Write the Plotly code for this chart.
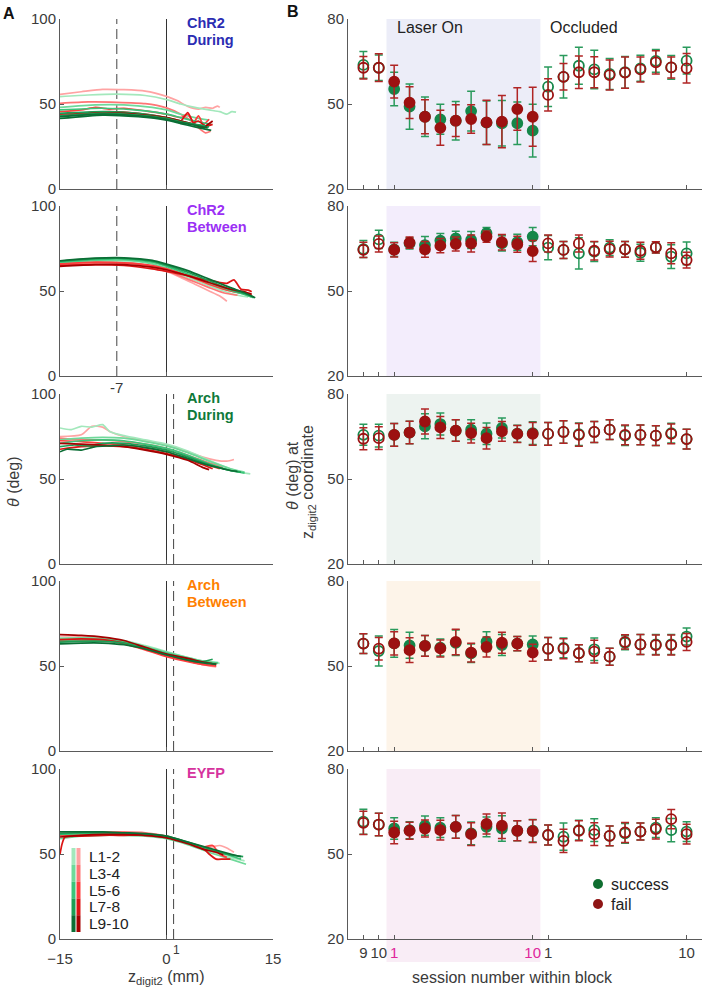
import plotly.graph_objects as go

W, H = 706, 995
FONT = "Liberation Sans, Arial, sans-serif"
TXT = "#3a3a3a"
AXC = "#5a5a5a"

# ---------------- labels / styles ----------------
GROUP_LINE1 = ["ChR2", "ChR2", "Arch", "Arch", "EYFP"]
GROUP_LINE2 = ["During", "Between", "During", "Between", ""]
GROUP_COLORS = ["#2b2db3", "#9b30f5", "#0f7a3a", "#ff8000", "#d6339e"]
SHADE_COLORS = ["#ecedf8", "#f3edfc", "#edf3f0", "#fdf4e9", "#f9edf6"]
DASH_Z = [-7, -7, 1, 1, 1]
SOLID_Z = [0, 0, 0, 0, 0]
LEVEL_LABELS = ["L1-2", "L3-4", "L5-6", "L7-8", "L9-10"]
GREEN_SHADES = ["#a3e8bc", "#6fd99a", "#3cc47a", "#1c9e55", "#0b6e35"]
RED_SHADES = ["#ffa3a3", "#ff7575", "#ff3d3d", "#dc1414", "#a50000"]

# ---------------- panel B: sessions ----------------
SESSION_IDX = list(range(22))
FILLED = [False] * 2 + [True] * 10 + [False] * 10
TICK_IDX = [0, 1, 2, 11, 12, 21]
TICK_TEXT = ["9", "10", "1", "10", "1", "10"]
TICK_MAGENTA = [False, False, True, True, False, False]

CHR2_DUR_SUCC = [63.8, 62.8, 55.3, 49.1, 45.5, 44.6, 44.1, 47.5, 43.4, 43.2, 43.2, 40.6,
                 56.1, 59.6, 63.5, 62.2, 60.6, 61.2, 62.6, 65.2, 62.9, 65.3]
CHR2_DUR_SUCC_ERR = [4.7, 4.5, 5.9, 8.0, 7.0, 5.3, 6.8, 7.0, 7.7, 8.0, 7.5, 9.3,
                     7.0, 7.5, 6.5, 6.8, 5.5, 5.6, 4.6, 4.0, 4.2, 4.7]
CHR2_DUR_FAIL = [62.8, 62.8, 57.9, 50.5, 45.5, 41.6, 44.1, 44.7, 43.5, 43.8, 48.2, 45.5,
                 53.2, 59.6, 61.2, 61.2, 60.2, 61.1, 62.2, 64.7, 62.9, 62.6]
CHR2_DUR_FAIL_ERR = [4.0, 4.9, 5.8, 5.6, 6.0, 6.2, 5.6, 5.0, 7.8, 9.2, 7.5, 10.4,
                     5.7, 4.7, 5.7, 5.5, 5.3, 5.5, 4.4, 4.1, 3.7, 5.2]

CHR2_BET_SUCC = [64.8, 68.2, 64.7, 66.8, 66.2, 67.8, 68.6, 68.0, 70.4, 66.8, 67.2, 69.2,
                 65.3, 64.5, 63.3, 63.9, 65.3, 64.7, 63.5, 65.4, 62.1, 63.3]
CHR2_BET_SUCC_ERR = [3.0, 3.2, 2.5, 2.0, 3.0, 2.5, 2.5, 3.0, 2.0, 2.7, 2.8, 3.2,
                     4.3, 3.0, 5.5, 3.5, 2.8, 2.8, 3.0, 2.0, 4.2, 4.0]
CHR2_BET_FAIL = [64.5, 66.6, 64.5, 67.1, 64.7, 66.0, 66.6, 66.8, 69.2, 67.2, 66.5, 64.1,
                 66.8, 64.5, 66.8, 64.2, 64.8, 64.7, 64.2, 65.4, 63.3, 60.9]
CHR2_BET_FAIL_ERR = [2.7, 2.8, 2.5, 2.0, 2.8, 2.5, 2.5, 3.0, 2.0, 2.7, 2.8, 3.7,
                     3.0, 3.0, 3.0, 3.3, 2.8, 2.8, 3.0, 2.0, 3.7, 2.8]

ARCH_DUR_SUCC = [65.6, 65.3, 65.6, 66.4, 68.6, 69.4, 67.1, 67.4, 66.0, 68.0, 66.0, 66.2,
                 65.9, 66.6, 65.8, 66.6, 67.4, 65.3, 65.6, 65.3, 66.2, 64.1]
ARCH_DUR_SUCC_ERR = [3.7, 4.0, 4.0, 4.0, 4.4, 3.9, 3.8, 3.5, 3.8, 3.5, 3.0, 4.0,
                     4.0, 4.0, 4.0, 3.7, 3.5, 3.5, 3.5, 3.5, 3.5, 3.5]
ARCH_DUR_FAIL = [64.2, 64.4, 65.6, 66.4, 70.3, 68.2, 67.1, 66.2, 64.4, 66.8, 65.9, 65.9,
                 65.9, 66.6, 65.6, 66.6, 67.4, 65.6, 65.6, 65.3, 65.9, 64.1]
ARCH_DUR_FAIL_ERR = [3.9, 4.0, 4.0, 4.0, 4.4, 3.9, 3.8, 3.5, 3.8, 3.5, 3.0, 4.0,
                     4.0, 4.0, 4.0, 3.7, 3.5, 3.5, 3.5, 3.5, 3.5, 3.5]

ARCH_BET_SUCC = [57.9, 55.3, 58.0, 57.3, 57.1, 56.5, 58.2, 54.5, 58.6, 57.4, 57.9, 57.6,
                 56.1, 56.4, 54.5, 55.9, 53.3, 58.2, 57.6, 57.6, 57.6, 60.4]
ARCH_BET_SUCC_ERR = [3.5, 5.3, 4.9, 4.6, 3.7, 3.0, 4.5, 3.3, 3.5, 3.7, 2.5, 3.0,
                     4.0, 3.5, 3.0, 4.0, 3.0, 2.5, 3.5, 3.5, 3.5, 3.0]
ARCH_BET_FAIL = [57.9, 56.1, 58.0, 55.6, 57.1, 56.2, 58.5, 54.7, 56.7, 58.2, 57.9, 54.7,
                 56.1, 56.1, 54.5, 55.1, 53.3, 58.5, 57.6, 57.4, 57.4, 58.5]
ARCH_BET_FAIL_ERR = [3.5, 4.0, 4.1, 4.4, 3.7, 3.0, 4.5, 3.3, 3.5, 3.7, 2.5, 3.0,
                     4.0, 3.5, 3.0, 4.0, 3.0, 2.5, 3.5, 3.5, 3.5, 3.0]

EYFP_SUCC = [61.4, 60.4, 59.0, 58.4, 60.0, 59.3, 59.6, 57.3, 59.6, 59.0, 58.2, 58.2,
             56.7, 56.1, 58.4, 58.4, 56.4, 57.3, 57.9, 59.3, 58.4, 57.9]
EYFP_SUCC_ERR = [4.4, 4.0, 3.8, 3.0, 3.4, 3.5, 4.0, 4.0, 3.5, 4.5, 3.5, 4.0,
                 3.5, 4.8, 3.5, 4.0, 3.5, 3.5, 3.0, 3.5, 4.1, 3.5]
EYFP_FAIL = [61.0, 60.4, 57.6, 58.2, 59.0, 58.4, 59.6, 57.0, 60.6, 60.0, 58.2, 58.1,
             56.7, 54.6, 58.2, 57.0, 56.4, 57.6, 57.9, 58.8, 62.3, 57.0]
EYFP_FAIL_ERR = [4.1, 4.0, 4.0, 3.0, 3.0, 3.5, 4.0, 4.0, 3.5, 4.5, 3.5, 4.0,
                 3.5, 4.1, 3.5, 4.0, 3.5, 3.5, 3.0, 3.5, 3.4, 3.5]

SUCC_MEANS = [CHR2_DUR_SUCC, CHR2_BET_SUCC, ARCH_DUR_SUCC, ARCH_BET_SUCC, EYFP_SUCC]
SUCC_ERRS = [CHR2_DUR_SUCC_ERR, CHR2_BET_SUCC_ERR, ARCH_DUR_SUCC_ERR, ARCH_BET_SUCC_ERR, EYFP_SUCC_ERR]
FAIL_MEANS = [CHR2_DUR_FAIL, CHR2_BET_FAIL, ARCH_DUR_FAIL, ARCH_BET_FAIL, EYFP_FAIL]
FAIL_ERRS = [CHR2_DUR_FAIL_ERR, CHR2_BET_FAIL_ERR, ARCH_DUR_FAIL_ERR, ARCH_BET_FAIL_ERR, EYFP_FAIL_ERR]

# ---------------- panel A: trajectories (level index, outcome, z, theta) ----------------
CHR2_DUR_LEVEL = [0, 0, 1, 1, 2, 2, 3, 3, 4, 4, 3, 4]
CHR2_DUR_OUT = ["r", "g", "r", "g", "r", "g", "r", "g", "r", "g", "g", "g"]
CHR2_DUR_Z = [
    [-15, -12, -9, -6, -3, 0, 1.5, 3, 4.5, 5.5, 6.5, 7.2, 7.5],
    [-15, -11, -7, -3, 0, 2, 4, 6, 7.5, 8.5, 9.2, 9.8],
    [-15, -11, -7, -3, 0, 2, 3.5, 4.5, 5.5, 6.2],
    [-15, -10, -6, -2, 0, 2, 4, 6],
    [-15, -12, -10, -8, -6, -3, 0, 2, 3, 3.8, 4.5, 5.2, 6],
    [-15, -9, -3, 0, 2, 4, 6.3],
    [-15, -11, -8, -4, 0, 2, 3, 3.8, 4.5, 5.5, 6.5],
    [-15, -9, -4, 0, 2, 4, 6],
    [-15, -10, -6, -2, 0, 2, 4, 5, 6.5],
    [-15, -9, -4, 0, 2, 4, 6.3],
    [-15, -9, -4, 0, 2, 4, 5.5],
    [-15, -9, -4, 0, 2, 4, 5.8],
]
CHR2_DUR_TH = [
    [55.7, 57.2, 58.6, 58.4, 57.6, 54.5, 52, 48.5, 47, 48, 47.5, 48.8, 48],
    [54.3, 55.3, 55.8, 55, 52.6, 50, 48, 46.5, 45.5, 44, 45.5, 45.2],
    [50.4, 51.2, 51, 50.2, 47.7, 44, 40, 36, 33, 34],
    [48, 49.5, 49.5, 48, 46.5, 44, 42, 40.5],
    [45.5, 46.5, 48, 47, 47.5, 46, 44, 42, 44, 39, 43, 38, 41],
    [46.5, 47.5, 46, 44, 42, 40, 38],
    [44, 45, 45.5, 44.5, 42, 40, 45, 39, 40, 37, 38],
    [44.5, 45.5, 44.5, 42, 40, 38, 36.5],
    [43, 44.5, 44.5, 43, 42, 40, 38, 36, 40],
    [41.5, 43.5, 42.5, 40.5, 38.5, 36.5, 34.5],
    [43, 44.5, 43.5, 41.5, 39.5, 38, 37],
    [42.5, 44, 43, 41, 39, 37.5, 36],
]

CHR2_BET_LEVEL = [0, 0, 1, 1, 2, 2, 3, 3, 4, 4]
CHR2_BET_OUT = ["r", "g", "r", "g", "r", "g", "r", "g", "r", "g"]
CHR2_BET_Z = [
    [-15, -10, -6, -2, 0, 2, 4, 6, 7.5, 8.5],
    [-15, -10, -6, -2, 0, 3, 6, 8, 10, 11.5],
    [-15, -10, -6, -2, 0, 3, 6, 8, 10],
    [-15, -10, -6, -2, 0, 3, 6, 9, 11, 12],
    [-15, -10, -6, -2, 0, 3, 6, 9, 11, 12],
    [-15, -10, -6, -2, 0, 3, 6, 9, 11, 12.3],
    [-15, -10, -6, -2, 0, 3, 5, 6.5, 7.5, 8.5, 9.5, 10.5, 11.5, 12],
    [-15, -10, -6, -2, 0, 3, 6, 9, 11, 12.3],
    [-15, -10, -6, -2, 0, 3, 6, 9, 11, 12],
    [-15, -10, -6, -2, 0, 3, 6, 9, 11, 12.5],
]
CHR2_BET_TH = [
    [65.5, 66.5, 66.5, 64, 61.5, 58, 54, 50, 47, 44],
    [66, 67, 67, 64.5, 62, 58, 53, 50, 47.5, 46.5],
    [65.5, 66.5, 66.5, 64.5, 62, 57, 52, 49, 47.5],
    [66.5, 67.8, 68, 66, 63.5, 59, 54, 50, 48, 46.5],
    [66, 67, 66.5, 65, 63, 59, 54, 50, 48.5, 47.5],
    [67, 68.5, 68.8, 67, 64.5, 60, 55, 50.5, 48, 46],
    [65, 65.5, 65, 63, 61.5, 59, 57, 56, 55, 54.5, 56.5, 51, 50.5, 49.5],
    [67.5, 69, 69.2, 67.5, 65.2, 61, 56, 51, 48.5, 46.5],
    [64.5, 65.5, 65.5, 64, 62.5, 59, 55, 51, 49.5, 48],
    [67.8, 69.3, 69.5, 68, 65.8, 62, 57, 52, 49, 46],
]

ARCH_DUR_LEVEL = [0, 0, 1, 1, 2, 2, 3, 3, 4, 4]
ARCH_DUR_OUT = ["r", "g", "r", "g", "r", "g", "r", "g", "r", "g"]
ARCH_DUR_Z = [
    [-15, -12, -10.5, -9, -8, -6, -3, 0, 3, 5, 7, 8.5, 9.5],
    [-15, -13.5, -12, -10.5, -9, -8, -6, -3, 0, 3, 6, 9, 10.5, 11.8],
    [-15, -12, -9, -6, -3, 0, 3, 6, 8],
    [-15, -12, -9, -6, -3, 0, 3, 6, 9, 11],
    [-15, -12, -9, -6, -3, 0, 3, 6, 7.5],
    [-15, -12, -9, -6, -3, 0, 3, 6, 9, 11],
    [-15, -12, -9, -6, -3, 0, 3, 5, 6.5],
    [-15, -13, -11, -9, -6, -3, 0, 3, 6, 9, 10.5],
    [-15, -12, -9, -6, -3, 0, 3, 5, 6],
    [-15, -14, -12, -10, -8, -6, -3, 0, 3, 6, 8, 9, 10],
]
ARCH_DUR_TH = [
    [75, 76, 81, 80.5, 78, 75, 72.5, 70, 66, 63, 61, 60.5, 61.5],
    [80, 79, 81, 80.5, 82, 78, 75.5, 73, 70.5, 66.5, 61, 56, 54, 53],
    [74, 73, 73, 72, 70.5, 68, 64, 59.5, 57],
    [73, 74, 74.5, 74, 72, 69.5, 65.5, 60.5, 56, 54],
    [72.5, 72, 71, 70, 68.5, 66, 62, 58, 56],
    [71, 72.5, 73, 72.5, 70.5, 68, 64, 59, 55, 53.5],
    [67.5, 69, 69.5, 69, 67.5, 65, 61.5, 58.5, 56],
    [69, 70, 69.5, 71, 71, 69.5, 67, 63, 58.5, 55, 54],
    [71, 70.5, 70, 69, 67, 64.5, 61, 57, 55.5],
    [66, 67.5, 67, 69, 69.5, 70, 68.5, 66, 62, 58, 56, 55, 54.5],
]

ARCH_BET_LEVEL = [0, 0, 1, 1, 2, 2, 3, 3, 4, 4]
ARCH_BET_OUT = ["r", "g", "r", "g", "r", "g", "r", "g", "r", "g"]
ARCH_BET_Z = [
    [-15, -12, -9, -6, -3, 0, 3, 5, 7],
    [-15, -12, -9, -6, -3, 0, 3, 5, 7.5],
    [-15, -12, -9, -6, -3, 0, 3, 5, 7],
    [-15, -12, -9, -6, -3, 0, 3, 5, 7.3],
    [-15, -12, -9, -6, -3, 0, 3, 5, 7],
    [-15, -12, -9, -6, -3, 0, 3, 5, 7.2],
    [-15, -12, -9, -6, -3, 0, 3, 5, 7],
    [-15, -12, -9, -6, -3, 0, 3, 5, 6.5],
    [-15, -12, -9, -6, -3, 0, 3, 5, 7],
    [-15, -12, -9, -6, -3, 0, 3, 5, 7],
]
ARCH_BET_TH = [
    [67, 67, 66.5, 64.5, 61, 56.5, 53, 51, 49.5],
    [66.5, 66.5, 66, 65, 62, 58.5, 55, 53, 51.5],
    [66, 66, 65.5, 63.5, 60, 56, 53, 51, 50],
    [66, 66.5, 66, 64.5, 61.5, 58, 55, 53, 52],
    [64.5, 65, 65, 63, 59.5, 55.5, 52.5, 51, 50],
    [65, 65.5, 65.5, 64, 61, 57.5, 54.5, 52.5, 51.5],
    [65.5, 66, 65.5, 63.5, 60, 56.5, 53.5, 52, 51],
    [64, 64.5, 64.5, 63.5, 60.5, 57, 54, 52.5, 54],
    [68.5, 68, 67, 65, 61, 57, 54.5, 52.5, 51],
    [63, 63.5, 63.5, 62.5, 60, 56.5, 53.5, 52, 51],
]

EYFP_LEVEL = [0, 0, 1, 1, 2, 2, 3, 3, 4, 4]
EYFP_OUT = ["r", "g", "r", "g", "r", "g", "r", "g", "r", "g"]
EYFP_Z = [
    [-15, -12, -9, -6, -3, 0, 2, 4, 6, 7.5, 8.5, 9.5],
    [-15, -12, -9, -6, -3, 0, 3, 6, 9, 11],
    [-15, -12, -9, -6, -3, 0, 3, 5, 7, 8.5],
    [-15, -12, -9, -6, -3, 0, 3, 6, 9, 11.2],
    [-15, -12, -9, -6, -3, 0, 3, 5, 6.5, 7.5, 8.5],
    [-15, -12, -9, -6, -3, 0, 3, 6, 9, 10.5],
    [-15, -14.7, -14.3, -12, -9, -6, -3, 0, 2, 4, 5.5, 6, 7, 8, 9],
    [-15, -12, -9, -6, -3, 0, 3, 6, 9, 10.8],
    [-15, -12, -9, -6, -3, 0, 3, 5, 7, 8],
    [-15, -12, -9, -6, -3, 0, 3, 6, 9, 10.5],
]
EYFP_TH = [
    [61, 62, 62.5, 62.5, 62, 60.5, 58, 55, 54, 55, 53.5, 51],
    [60.5, 61.5, 62, 62, 61.5, 60, 56.5, 52, 48, 46],
    [62, 62.5, 63, 63, 62.5, 60.5, 56, 53.5, 51, 50],
    [59, 60.5, 61, 61, 60.5, 59, 55.5, 51, 47, 44],
    [61, 61.5, 62, 62, 61.5, 60, 56.5, 54, 55, 50, 48],
    [61.5, 62, 62, 62, 61.5, 60, 56.5, 52.5, 49, 47],
    [50, 56, 60, 60.5, 61, 61, 61, 60, 58, 55, 52, 50, 47, 47, 47],
    [62, 62.5, 62.5, 62, 61.5, 60.5, 57, 53, 49.5, 48.5],
    [60, 61, 61.5, 61.5, 61, 59.5, 56, 53, 51, 49.5],
    [63, 63, 63, 62.5, 62, 60.5, 57, 53.5, 50, 48.5],
]

LEVELS = [CHR2_DUR_LEVEL, CHR2_BET_LEVEL, ARCH_DUR_LEVEL, ARCH_BET_LEVEL, EYFP_LEVEL]
OUTS = [CHR2_DUR_OUT, CHR2_BET_OUT, ARCH_DUR_OUT, ARCH_BET_OUT, EYFP_OUT]
ZS = [CHR2_DUR_Z, CHR2_BET_Z, ARCH_DUR_Z, ARCH_BET_Z, EYFP_Z]
THS = [CHR2_DUR_TH, CHR2_BET_TH, ARCH_DUR_TH, ARCH_BET_TH, EYFP_TH]

# ---------------- geometry (pixels) ----------------
LEFT_PX = (60, 273)
RIGHT_PX = (348, 702)
ROWS_PX = [(19, 189), (206, 376), (394, 564), (581, 751), (769, 939)]
RIGHT_XRANGE = [-1, 22]
SHADE_X = [1.5, 11.5]


def px(x):
    return x / W


def py(y):
    return 1 - y / H


SUCC_COL = "#15874a"
SUCC_ERR_COL = "#2a9a5c"
FAIL_COL = "#9c1111"
FAIL_ERR_COL = "#b02525"
MAG = "#e0259b"

fig = go.Figure()
layout = dict(
    width=W, height=H, margin=dict(l=0, r=0, t=0, b=0, autoexpand=False),
    paper_bgcolor="white", plot_bgcolor="rgba(0,0,0,0)",
    showlegend=False, font=dict(family=FONT, size=15, color=TXT),
)
shapes = []
annotations = []

base_axis = dict(showline=True, linecolor=AXC, linewidth=1, ticks="inside", ticklen=4,
                 tickcolor=AXC, tickwidth=1, showgrid=False, zeroline=False, automargin=False,
                 tickfont=dict(family=FONT, size=15, color=TXT), fixedrange=True)

for i in range(5):
    top, bot = ROWS_PX[i]
    ydom = [py(bot), py(top)]
    nl, nr = 2 * i + 1, 2 * i + 2
    kl = "" if nl == 1 else str(nl)
    kr = str(nr)
    last = (i == 4)

    # left axes
    layout["xaxis" + kl] = dict(base_axis, domain=[px(LEFT_PX[0]), px(LEFT_PX[1])],
                                range=[-15, 15], anchor="y" + kl,
                                tickvals=[-15, 0, 15], showticklabels=last,
                                ticklabelstandoff=6)
    layout["yaxis" + kl] = dict(base_axis, domain=ydom, range=[0, 100], anchor="x" + kl,
                                tickvals=[0, 50, 100])
    # right axes
    ttext = [f"<span style='color:{MAG}'>{t}</span>" if m else t
             for t, m in zip(TICK_TEXT, TICK_MAGENTA)]
    layout["xaxis" + kr] = dict(base_axis, domain=[px(RIGHT_PX[0]), px(RIGHT_PX[1])],
                                range=RIGHT_XRANGE, anchor="y" + kr,
                                tickvals=TICK_IDX, ticktext=ttext, showticklabels=last)
    layout["yaxis" + kr] = dict(base_axis, domain=ydom, range=[20, 80], anchor="x" + kr,
                                tickvals=[20, 50, 80])

    # trajectories
    for lev, out, z, th in zip(LEVELS[i], OUTS[i], ZS[i], THS[i]):
        col = GREEN_SHADES[lev] if out == "g" else RED_SHADES[lev]
        fig.add_trace(go.Scatter(x=z, y=th, mode="lines",
                                 line=dict(color=col, width=1.7, shape="spline", smoothing=0.6),
                                 xaxis="x" + kl, yaxis="y" + kl, hoverinfo="skip"))
    # vertical reference lines
    shapes.append(dict(type="line", xref="x" + kl, yref="y" + kl, x0=SOLID_Z[i], x1=SOLID_Z[i],
                       y0=0, y1=100, line=dict(color="#333333", width=1), layer="below"))
    shapes.append(dict(type="line", xref="x" + kl, yref="y" + kl, x0=DASH_Z[i], x1=DASH_Z[i],
                       y0=0, y1=100, line=dict(color="#444444", width=1, dash="10px,5px"),
                       layer="below"))

    # laser shading
    shapes.append(dict(type="rect", xref="x" + kr, yref="y" + kr, x0=SHADE_X[0], x1=SHADE_X[1],
                       y0=20, y1=80, fillcolor=SHADE_COLORS[i], line=dict(width=0), layer="below"))

    symbols = ["circle" if f else "circle-open" for f in FILLED]
    for means, errs, mc, ec in ((SUCC_MEANS[i], SUCC_ERRS[i], SUCC_COL, SUCC_ERR_COL),
                                (FAIL_MEANS[i], FAIL_ERRS[i], FAIL_COL, FAIL_ERR_COL)):
        fig.add_trace(go.Scatter(
            x=SESSION_IDX, y=means, mode="markers",
            marker=dict(symbol=symbols, size=10, color=mc, line=dict(width=1.8, color=mc)),
            error_y=dict(type="data", array=errs, color=ec, thickness=1.5, width=4),
            xaxis="x" + kr, yaxis="y" + kr, hoverinfo="skip"))

    # group labels
    gx = 185
    annotations.append(dict(text=f"<b>{GROUP_LINE1[i]}</b>", x=px(gx), y=py(top + 4),
                            xref="paper", yref="paper", xanchor="left", yanchor="middle",
                            showarrow=False, font=dict(size=14.5, color=GROUP_COLORS[i])))
    if GROUP_LINE2[i]:
        annotations.append(dict(text=f"<b>{GROUP_LINE2[i]}</b>", x=px(gx), y=py(top + 21),
                                xref="paper", yref="paper", xanchor="left", yanchor="middle",
                                showarrow=False, font=dict(size=14.5, color=GROUP_COLORS[i])))

# extension of bottom shading below the axis
x_span = RIGHT_XRANGE[1] - RIGHT_XRANGE[0]
sx0 = RIGHT_PX[0] + (SHADE_X[0] - RIGHT_XRANGE[0]) / x_span * (RIGHT_PX[1] - RIGHT_PX[0])
sx1 = RIGHT_PX[0] + (SHADE_X[1] - RIGHT_XRANGE[0]) / x_span * (RIGHT_PX[1] - RIGHT_PX[0])
shapes.append(dict(type="rect", xref="paper", yref="paper", x0=px(sx0), x1=px(sx1),
                   y0=py(962), y1=py(ROWS_PX[4][1]), fillcolor=SHADE_COLORS[4],
                   line=dict(width=0), layer="below"))

# level legend (colour bars)
seg_top, seg_h = 848, 16.8
for k in range(5):
    y0p, y1p = seg_top + k * seg_h, seg_top + (k + 1) * seg_h
    shapes.append(dict(type="rect", xref="paper", yref="paper", x0=px(71.5), x1=px(75.5),
                       y0=py(y1p), y1=py(y0p), fillcolor=GREEN_SHADES[k], line=dict(width=0)))
    shapes.append(dict(type="rect", xref="paper", yref="paper", x0=px(76.5), x1=px(80.5),
                       y0=py(y1p), y1=py(y0p), fillcolor=RED_SHADES[k], line=dict(width=0)))
    annotations.append(dict(text=LEVEL_LABELS[k], x=px(87), y=py((y0p + y1p) / 2),
                            xref="paper", yref="paper", xanchor="left", yanchor="middle",
                            showarrow=False, font=dict(size=15.5, color="#222222")))

# success / fail legend
for lbl, col, yy in (("success", "#0f6e30", 884), ("fail", "#8f1515", 904)):
    shapes.append(dict(type="circle", xref="paper", yref="paper", x0=px(593), x1=px(603),
                       y0=py(yy + 5), y1=py(yy - 5), fillcolor=col, line=dict(width=0)))
    annotations.append(dict(text=lbl, x=px(609), y=py(yy), xref="paper", yref="paper",
                            xanchor="left", yanchor="middle", showarrow=False,
                            font=dict(size=16, color="#222222")))


def ann(text, x, y, size=15, color=TXT, xanchor="center", angle=0):
    annotations.append(dict(text=text, x=px(x), y=py(y), xref="paper", yref="paper",
                            xanchor=xanchor, yanchor="middle", showarrow=False, textangle=angle,
                            font=dict(size=size, color=color)))


ann("<b>A</b>", 9, 13, size=16, color="#111111")
ann("<b>B</b>", 293, 12, size=16, color="#111111")
ann("Laser On", 395, 28, size=16, color="#222222", xanchor="left")
ann("Occluded", 548, 28, size=16, color="#222222", xanchor="left")
ann("-7", 116, 387, size=15)
ann("1", 176, 950, size=12)
ann("z<sub>digit2</sub> (mm)", 166, 977, size=16)
ann("session number within block", 512, 977, size=16)
ann("<i>θ</i> (deg)", 14, 482, size=16, angle=-90)
ann("<i>θ</i> (deg) at", 292, 476, size=16, angle=-90)
ann("z<sub>digit2</sub> coordinate", 309, 482, size=16, angle=-90)

layout["shapes"] = shapes
layout["annotations"] = annotations
fig.update_layout(**layout)
fig.write_html("out.html", config={"displayModeBar": False},
               post_script="document.body.style.margin='0px';document.body.style.padding='0px';")
